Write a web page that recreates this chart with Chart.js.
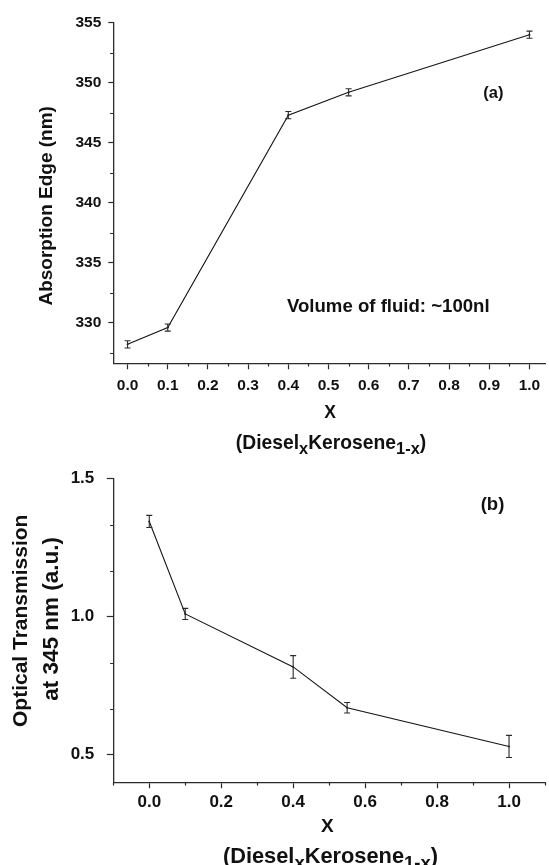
<!DOCTYPE html>
<html>
<head>
<meta charset="utf-8">
<script src="https://cdn.jsdelivr.net/npm/chart.js@4.4.1/dist/chart.umd.min.js"></script>
<style>
  html, body { margin: 0; padding: 0; background: #fff; }
  #wrap { position: relative; width: 549px; height: 865px; overflow: hidden; background: #fff; }
  canvas { position: absolute; left: 0; }
  #edge { top: 0; }
  #trans { top: 456px; }
</style>
</head>
<body>
<div id="wrap">
  <canvas id="edge" width="549" height="456"></canvas>
  <canvas id="trans" width="549" height="409"></canvas>
</div>
<script>
// Diesel fraction x in Diesel_x Kerosene_(1-x)
const fractions = [0, 0.1, 0.4, 0.55, 1.0];

// (a) absorption edge (nm) and its error
const edgeValues = [328.2, 329.6, 347.3, 349.2, 354.0];
const edgeErrors = [0.3, 0.3, 0.3, 0.3, 0.3];

// (b) optical transmission at 345 nm (a.u.) and its error
const transValues = [1.345, 1.01, 0.818, 0.67, 0.53];
const transErrors = [0.022, 0.02, 0.041, 0.019, 0.04];

// axis ticks
const edgeXTicks = [0, 0.1, 0.2, 0.3, 0.4, 0.5, 0.6, 0.7, 0.8, 0.9, 1.0];
const edgeXMinor = [0.05, 0.15, 0.25, 0.35, 0.45, 0.55, 0.65, 0.75, 0.85, 0.95];
const edgeYTicks = [330, 335, 340, 345, 350, 355];
const edgeYMinor = [327.5, 332.5, 337.5, 342.5, 347.5, 352.5];

const transXTicks = [0, 0.2, 0.4, 0.6, 0.8, 1.0];
const transXMinor = [-0.1, 0.1, 0.3, 0.5, 0.7, 0.9, 1.1];
const transYTicks = [0.5, 1.0, 1.5];
const transYMinor = [0.6667, 0.8333, 1.1667, 1.3333];

const FONT = '"Liberation Sans", Arial, Helvetica, sans-serif';
const AXIS = '#2b2b2b';
const INK = '#111';

function minorTicks(xMinor, yMinor, len) {
  return {
    id: 'minorTicks',
    afterDraw(chart) {
      const { ctx, chartArea: a, scales: { x, y } } = chart;
      ctx.save();
      ctx.strokeStyle = AXIS;
      ctx.lineWidth = 1.2;
      ctx.beginPath();
      xMinor.forEach(v => {
        const px = Math.round(x.getPixelForValue(v)) + 0.5;
        ctx.moveTo(px, a.bottom);
        ctx.lineTo(px, a.bottom + len);
      });
      yMinor.forEach(v => {
        const py = Math.round(y.getPixelForValue(v)) + 0.5;
        ctx.moveTo(a.left, py);
        ctx.lineTo(a.left - len, py);
      });
      ctx.stroke();
      ctx.restore();
    }
  };
}

function errorBars(values, errors, cap) {
  return {
    id: 'errorBars',
    afterDatasetsDraw(chart) {
      const { ctx, scales: { x, y } } = chart;
      ctx.save();
      ctx.strokeStyle = '#2a2a2a';
      ctx.lineWidth = 1.1;
      fractions.forEach((f, i) => {
        const px = x.getPixelForValue(f);
        const top = y.getPixelForValue(values[i] + errors[i]);
        const bot = y.getPixelForValue(values[i] - errors[i]);
        ctx.beginPath();
        ctx.moveTo(px, top); ctx.lineTo(px, bot);
        ctx.moveTo(px - cap, top); ctx.lineTo(px + cap, top);
        ctx.moveTo(px - cap, bot); ctx.lineTo(px + cap, bot);
        ctx.stroke();
      });
      ctx.restore();
    }
  };
}

// text with subscript runs: parts = [[text, isSubscript], ...]
function drawRuns(ctx, parts, cx, cy, size) {
  const subSize = size * 0.85;
  let total = 0;
  parts.forEach(([t, sub]) => {
    ctx.font = `bold ${sub ? subSize : size}px ${FONT}`;
    total += ctx.measureText(t).width;
  });
  let x = cx - total / 2;
  const base = cy + size * 0.36;
  ctx.textAlign = 'left';
  ctx.textBaseline = 'alphabetic';
  parts.forEach(([t, sub]) => {
    ctx.font = `bold ${sub ? subSize : size}px ${FONT}`;
    ctx.fillText(t, x, sub ? base + size * 0.3 : base);
    x += ctx.measureText(t).width;
  });
}

function labels(items) {
  return {
    id: 'labels',
    afterDraw(chart) {
      const ctx = chart.ctx;
      ctx.save();
      ctx.fillStyle = INK;
      items.forEach(it => {
        ctx.save();
        ctx.translate(it.x, it.y);
        if (it.rotate) ctx.rotate(-Math.PI / 2);
        if (it.parts) {
          drawRuns(ctx, it.parts, 0, 0, it.size);
        } else {
          ctx.font = `bold ${it.size}px ${FONT}`;
          ctx.textAlign = 'center';
          ctx.textBaseline = 'middle';
          ctx.fillText(it.text, 0, 0);
        }
        ctx.restore();
      });
      ctx.restore();
    }
  };
}

const blendName = [['(Diesel', false], ['x', true], ['Kerosene', false], ['1-x', true], [')', false]];

function makeChart(id, cfg) {
  const tickFont = { family: FONT, size: cfg.tickSize, weight: 'bold' };
  return new Chart(document.getElementById(id), {
    type: 'line',
    data: {
      datasets: [{
        data: fractions.map((f, i) => ({ x: f, y: cfg.values[i] })),
        borderColor: '#151515',
        borderWidth: 1.1,
        pointRadius: 1,
        pointBackgroundColor: '#151515',
        pointBorderWidth: 0,
        tension: 0,
        fill: false
      }]
    },
    options: {
      responsive: false,
      devicePixelRatio: 1,
      animation: false,
      events: [],
      layout: { padding: { top: cfg.padTop, left: 0, right: 0, bottom: 0 } },
      plugins: { legend: { display: false }, tooltip: { enabled: false }, title: { display: false } },
      scales: {
        x: {
          type: 'linear',
          position: 'bottom',
          min: cfg.xMin,
          max: cfg.xMax,
          afterBuildTicks: s => { s.ticks = cfg.xTicks.map(v => ({ value: v })); },
          afterFit: s => { s.height = cfg.xHeight; },
          border: { display: true, color: AXIS, width: 1.3 },
          grid: { drawOnChartArea: false, drawTicks: true, tickLength: 6, tickColor: AXIS, tickWidth: 1.2 },
          ticks: {
            font: tickFont, color: INK, padding: cfg.xPad, maxRotation: 0, autoSkip: false,
            callback: v => Number(v).toFixed(1)
          }
        },
        y: {
          type: 'linear',
          min: cfg.yMin,
          max: cfg.yMax,
          afterBuildTicks: s => { s.ticks = cfg.yTicks.map(v => ({ value: v })); },
          afterFit: s => { s.width = 113.3; },
          border: { display: true, color: AXIS, width: 1.3 },
          grid: { drawOnChartArea: false, drawTicks: true, tickLength: cfg.yTickLen, tickColor: AXIS, tickWidth: 1.2 },
          ticks: {
            font: tickFont, color: INK, padding: cfg.yPad, autoSkip: false,
            callback: cfg.yFormat
          }
        }
      }
    },
    plugins: [
      minorTicks(cfg.xMinor, cfg.yMinor, 3.2),
      errorBars(cfg.values, cfg.errors, 3),
      labels(cfg.labels)
    ]
  });
}

// (a) absorption edge versus diesel fraction
makeChart('edge', {
  values: edgeValues, errors: edgeErrors,
  xMin: -0.0355, xMax: 1.0387, yMin: 326.62, yMax: 355,
  xTicks: edgeXTicks, xMinor: edgeXMinor, yTicks: edgeYTicks, yMinor: edgeYMinor,
  padTop: 22.7, xHeight: 92.7, tickSize: 15.5, xPad: 7, yPad: 7, yTickLen: 5,
  yFormat: v => Number(v).toFixed(0),
  labels: [
    { text: 'Absorption Edge (nm)', x: 46.5, y: 205.8, size: 19, rotate: true },
    { text: 'X', x: 330, y: 413.3, size: 17.5 },
    { parts: blendName, x: 331, y: 441.7, size: 19.3 },
    { text: '(a)', x: 493.3, y: 93.3, size: 16.5 },
    { text: 'Volume of fluid: ~100nl', x: 388.3, y: 307.3, size: 18.6 }
  ]
});

// (b) optical transmission versus diesel fraction
makeChart('trans', {
  values: transValues, errors: transErrors,
  xMin: -0.1, xMax: 1.1, yMin: 0.4, yMax: 1.5,
  xTicks: transXTicks, xMinor: transXMinor, yTicks: transYTicks, yMinor: transYMinor,
  padTop: 11.7, xHeight: 82.7, tickSize: 17, xPad: 4, yPad: 12.5, yTickLen: 6.5,
  yFormat: v => Number(v).toFixed(1),
  labels: [
    { text: 'Optical Transmission', x: 21.7, y: 164.8, size: 21, rotate: true },
    { text: 'at 345 nm (a.u.)', x: 51.7, y: 162.8, size: 22.5, rotate: true },
    { text: 'X', x: 327.3, y: 370.7, size: 19 },
    { parts: blendName, x: 330.5, y: 399, size: 21.8 },
    { text: '(b)', x: 492.5, y: 49, size: 18.5 }
  ]
});
</script>
</body>
</html>
